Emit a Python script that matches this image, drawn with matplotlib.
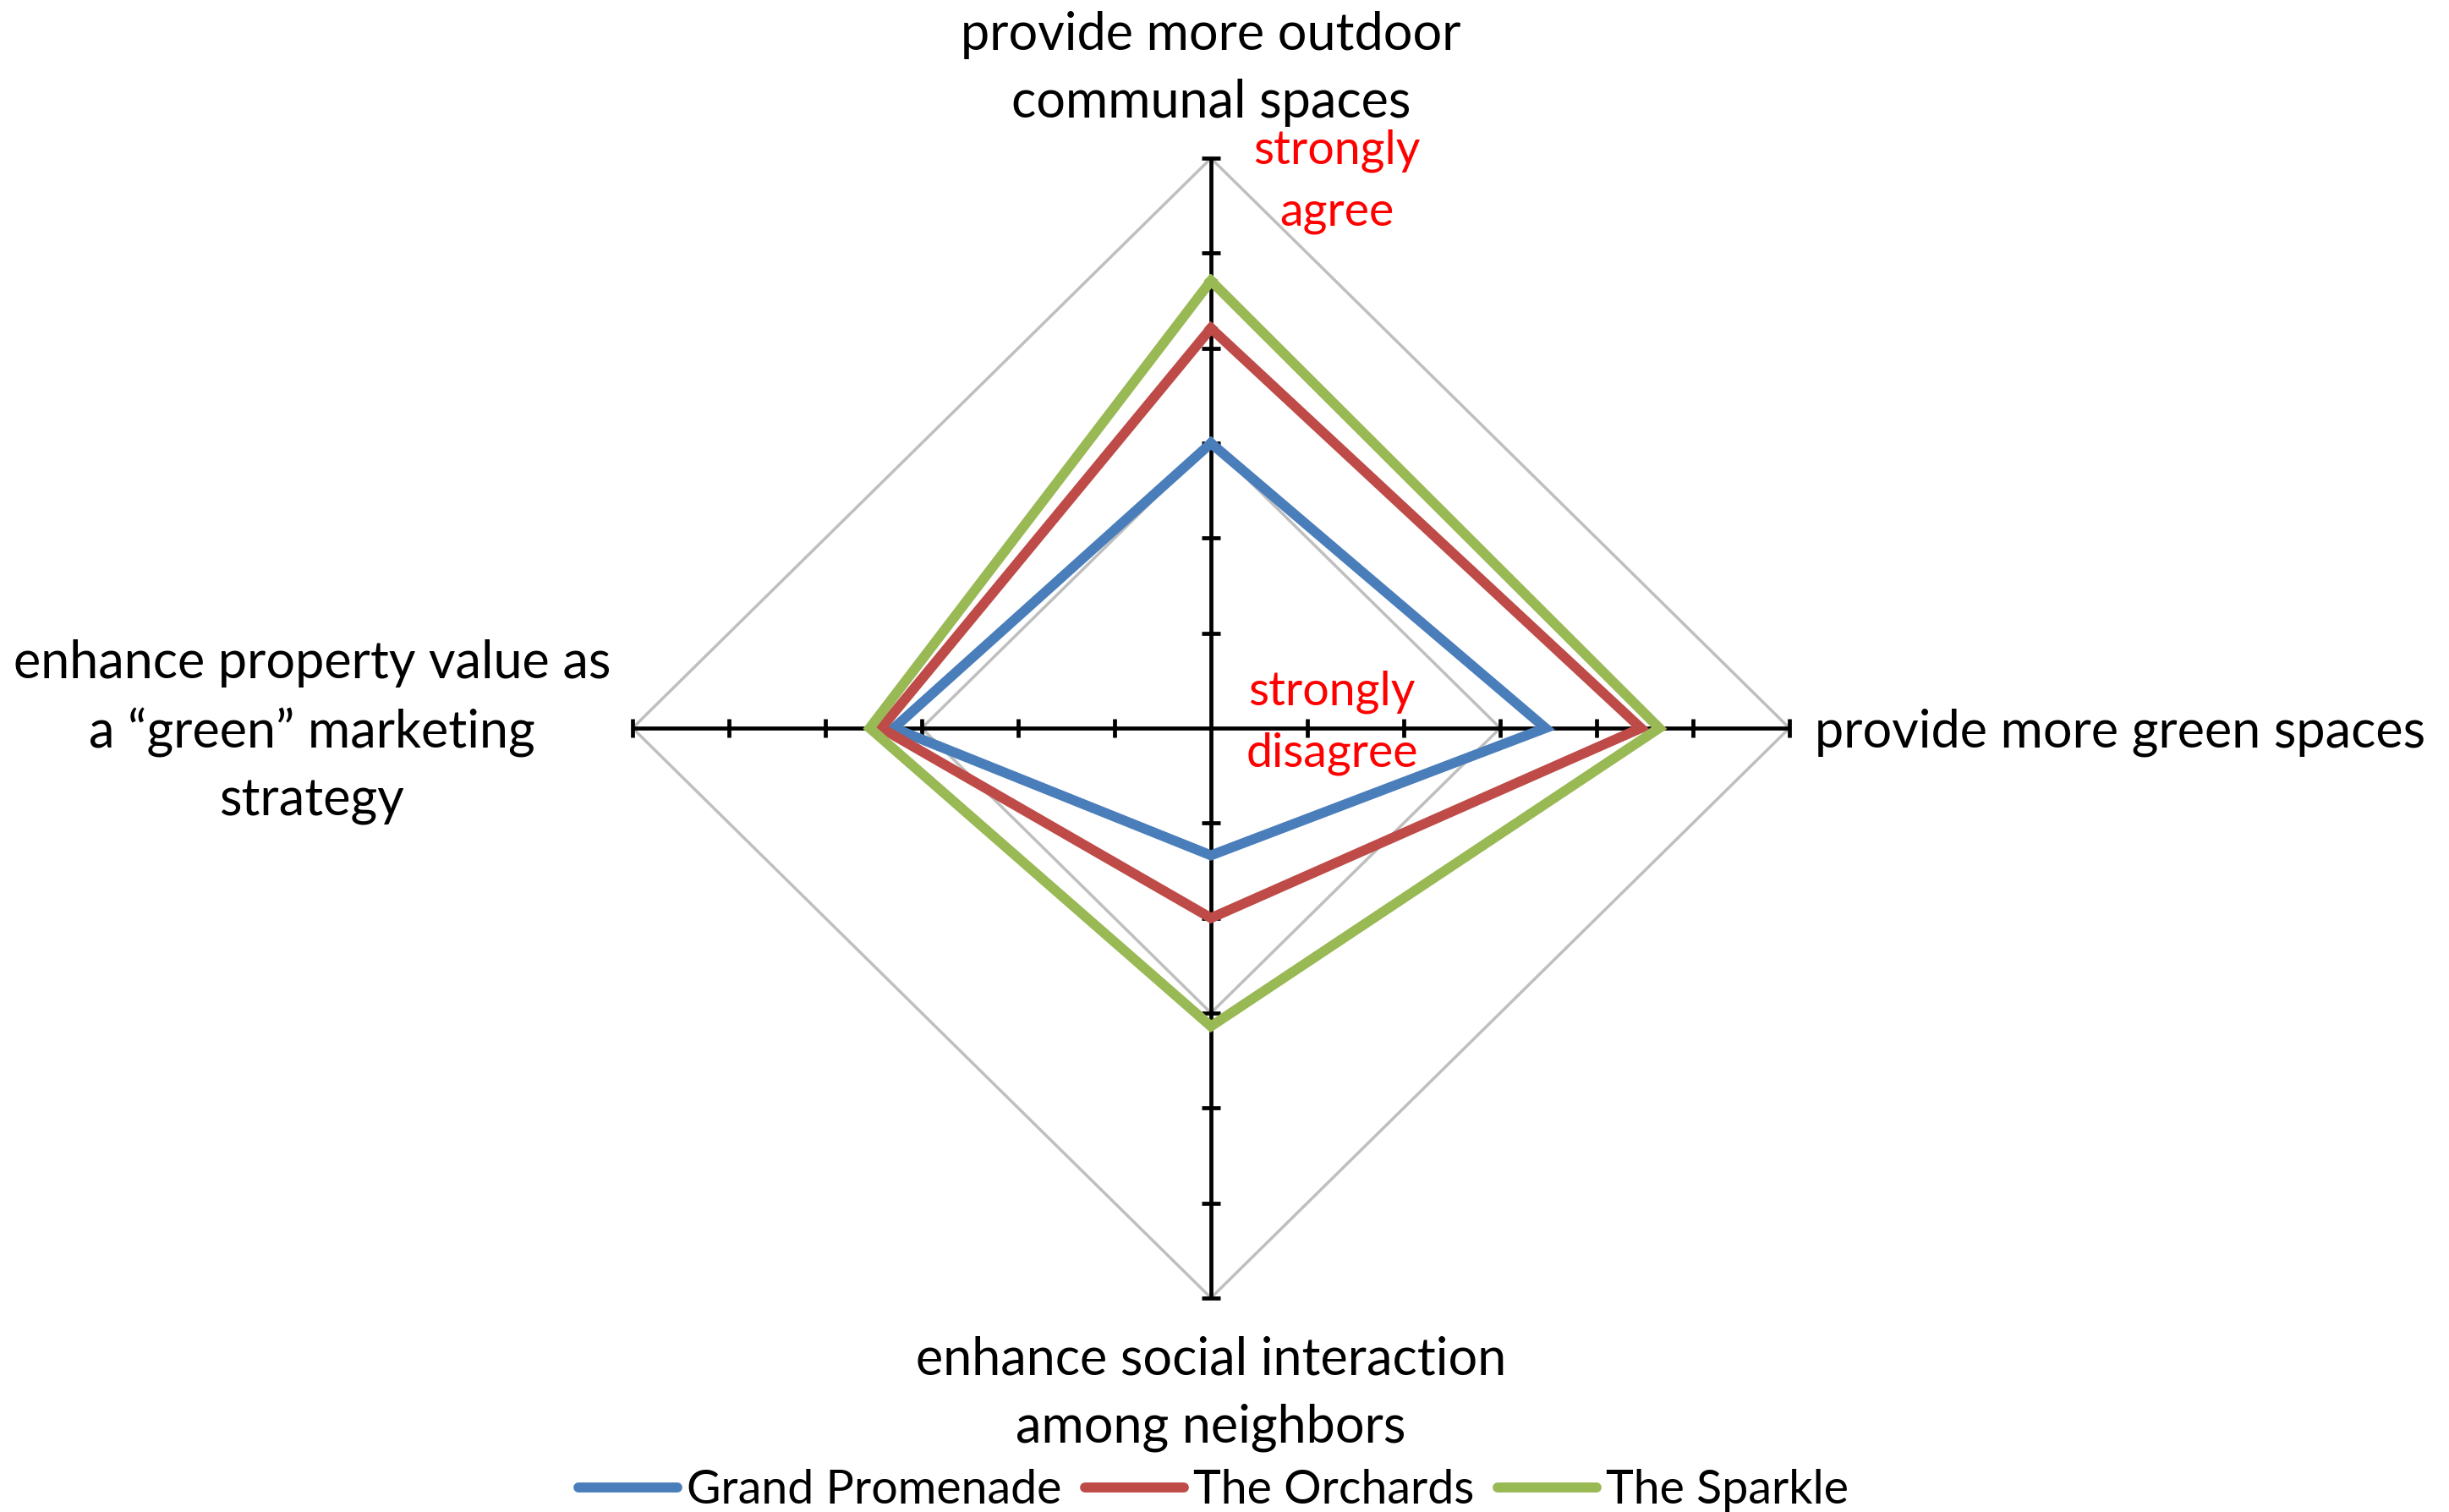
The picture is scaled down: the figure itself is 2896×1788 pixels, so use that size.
import numpy as np
import matplotlib.pyplot as plt
from matplotlib.lines import Line2D

# Survey means on a 1 (strongly disagree) .. 7 (strongly agree) scale
categories = [
    'provide more outdoor\ncommunal spaces',
    'provide more green spaces',
    'enhance social interaction\namong neighbors',
    'enhance property value as\na \u201cgreen\u201d marketing\nstrategy',
]
series_names = ['Grand Promenade', 'The Orchards', 'The Sparkle']
grand_promenade = [4.0, 4.47, 2.34, 4.29]
the_orchards = [5.21, 5.46, 3.0, 4.42]
the_sparkle = [5.71, 5.65, 4.14, 4.54]
scale_min, scale_max = 1, 7
grid_levels = [4, 7]
colors = ['#4A7EBB', '#BE4B48', '#98B954']

plt.rcParams['font.family'] = ['Lato', 'DejaVu Sans']

# spokes: top, right, bottom, left (clockwise like Excel)
angles = np.deg2rad([90, 0, -90, 180])


def to_xy(values):
    r = np.asarray(values, dtype=float) - scale_min
    x = np.round(r * np.cos(angles), 9)
    y = np.round(r * np.sin(angles), 9)
    return np.append(x, x[0]), np.append(y, y[0])


W, H = 2896, 1788
fig = plt.figure(figsize=(W / 100, H / 100), dpi=100)
cx, cy = 1432, 861          # centre of the web in pixels
ux, uy = 114, 112.3         # pixels per scale unit
span = 6.6
ax = fig.add_axes([(cx - span * ux) / W, (H - cy - span * uy) / H,
                   2 * span * ux / W, 2 * span * uy / H])
ax.set_xlim(-span, span)
ax.set_ylim(-span, span)
ax.axis('off')

# gray polygon gridlines
for lvl in grid_levels:
    gx, gy = to_xy([lvl] * 4)
    ax.plot(gx, gy, color='#BFBFBF', lw=2.5, zorder=1, solid_joinstyle='miter')

# black spokes with unit tick marks
rmax = scale_max - scale_min
steps = np.arange(1, rmax + 1)
for a in angles:
    ca, sa = np.round(np.cos(a), 9), np.round(np.sin(a), 9)
    ax.plot([0, rmax * ca], [0, rmax * sa], color='black', lw=3.4, zorder=2,
            solid_capstyle='butt')
    mk = '_' if abs(sa) > 0.5 else '|'
    ax.plot(steps * ca, steps * sa, mk, color='black', ms=16, mew=3.4, zorder=2)

# the three series
for name, vals, c in zip(series_names, [grand_promenade, the_orchards, the_sparkle], colors):
    sx, sy = to_xy(vals)
    ax.plot(sx, sy, color=c, lw=8.5, zorder=3, solid_joinstyle='miter', label=name)

# category labels
fs = 44
ls = 1.5
fig.text(cx / W, 1 - 81 / H, categories[0], ha='center', va='center', fontsize=fs,
         multialignment='center', linespacing=ls)
fig.text(2146 / W, 1 - 866 / H, categories[1], ha='left', va='center', fontsize=fs)
fig.text(cx / W, 1 - 1648 / H, categories[2], ha='center', va='center', fontsize=fs,
         multialignment='center', linespacing=ls)
fig.text(369 / W, 1 - 866 / H, categories[3], ha='center', va='center', fontsize=fs,
         multialignment='center', linespacing=ls)

# scale end notes
fig.text(1581 / W, 1 - 215 / H, 'strongly\nagree', ha='center', va='center',
         fontsize=40, color='red', multialignment='center', linespacing=1.52)
fig.text(1575 / W, 1 - 855 / H, 'strongly\ndisagree', ha='center', va='center',
         fontsize=40, color='red', multialignment='center', linespacing=1.52)

handles = [Line2D([], [], color=c, lw=8.5, solid_capstyle='round') for c in colors]
fig.legend(handles, series_names, loc='center', bbox_to_anchor=(1435 / W, 1 - 1763 / H),
           ncol=3, frameon=False, fontsize=40, handlelength=2.1, handletextpad=0.2,
           columnspacing=0.5, borderpad=0, borderaxespad=0)

fig.savefig('out.png', dpi=100)
